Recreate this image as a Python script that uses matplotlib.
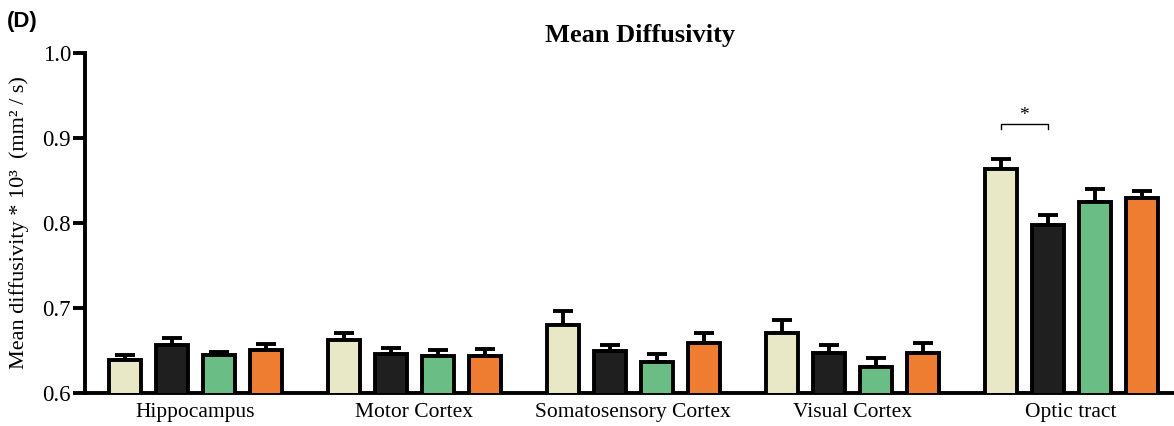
import matplotlib
matplotlib.use("Agg")
import matplotlib.pyplot as plt
import numpy as np

regions = ["Hippocampus", "Motor Cortex", "Somatosensory Cortex", "Visual Cortex", "Optic tract"]
group_colors = ["#e9e8c6", "#1f1f1f", "#6bbd86", "#ee7d32"]

# mean values per group (rows) across regions (columns)
means = [
    [0.639, 0.662, 0.680, 0.671, 0.864],
    [0.656, 0.646, 0.649, 0.647, 0.798],
    [0.645, 0.644, 0.636, 0.630, 0.825],
    [0.650, 0.644, 0.659, 0.647, 0.829],
]
# upper error (SEM)
errors = [
    [0.006, 0.008, 0.016, 0.015, 0.011],
    [0.009, 0.007, 0.008, 0.010, 0.011],
    [0.003, 0.006, 0.010, 0.011, 0.015],
    [0.008, 0.008, 0.012, 0.012, 0.009],
]

plt.rcParams['font.family'] = ['Liberation Serif', 'DejaVu Serif']

fig = plt.figure(figsize=(11.74, 4.26), dpi=100)
ax = fig.add_axes([0.0724, 0.0775, 0.9276, 0.7981])

x = np.arange(len(regions))
step = 0.2146
width = 0.146
for i, (m, e) in enumerate(zip(means, errors)):
    pos = x + (i - 1.5) * step
    ax.bar(pos, m, width=width, color=group_colors[i], edgecolor="black",
           linewidth=2.8, zorder=3)
    ax.errorbar(pos, m, yerr=[np.zeros(len(e)), e], fmt="none", ecolor="black",
                elinewidth=2.8, capsize=7, capthick=2.8, zorder=2)

# significance bracket on optic tract
x1 = x[4] - 1.5 * step
x2 = x[4] - 0.5 * step
ax.plot([x1, x1, x2, x2], [0.910, 0.917, 0.917, 0.910], color="black", lw=1.0)
ax.text((x1 + x2) / 2, 0.917, "*", ha="center", va="bottom", fontsize=14)

ax.set_ylim(0.6, 1.0)
ax.set_xlim(-0.505, 4.47)
ax.set_yticks([0.6, 0.7, 0.8, 0.9, 1.0])
ax.set_yticklabels(["0.6", "0.7", "0.8", "0.9", "1.0"])
ax.set_xticks(x)
ax.set_xticklabels(regions, fontsize=15.5)
ax.tick_params(axis="y", direction="out", length=9, width=2.8, labelsize=16.5, pad=1)
ax.tick_params(axis="x", length=0, pad=7)

for s in ["top", "right"]:
    ax.spines[s].set_visible(False)
ax.spines["left"].set_linewidth(2.8)
ax.spines["bottom"].set_linewidth(2.8)

ax.set_ylabel("Mean diffusivity * 10³  (mm² / s)", fontsize=16, labelpad=10)
ax.set_title("Mean Diffusivity", fontsize=19, fontweight="bold", pad=8, x=0.51)

fig.text(0.006, 0.975, "(D)", fontsize=16, fontweight="bold",
         family="Liberation Sans", va="top", ha="left")

fig.savefig("out.png", dpi=100)
